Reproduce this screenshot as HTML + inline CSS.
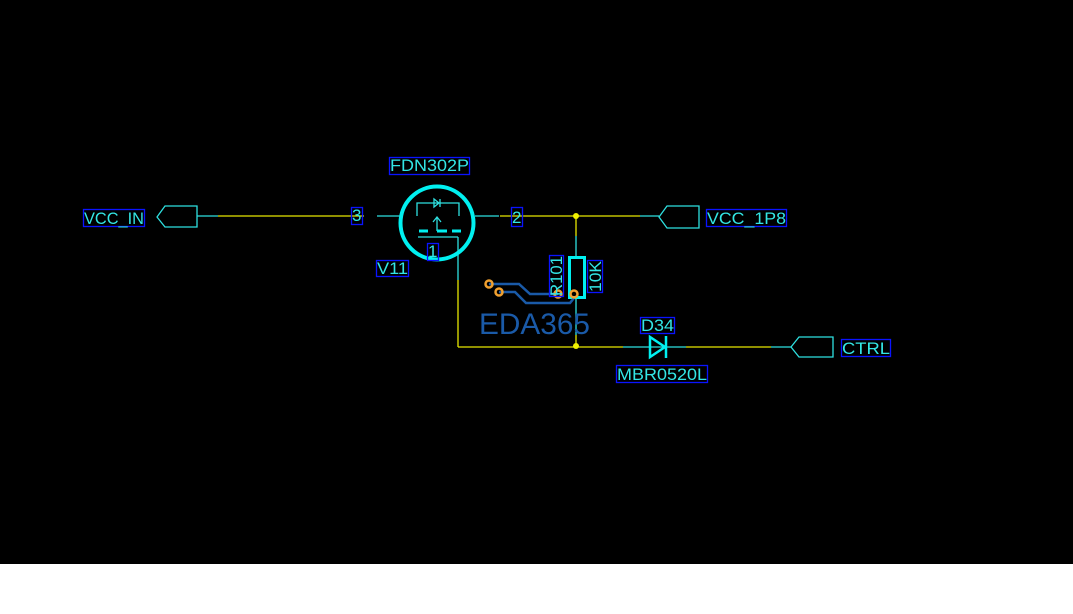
<!DOCTYPE html>
<html><head><meta charset="utf-8"><style>
body{margin:0;width:1073px;height:614px;background:#fff;overflow:hidden}
svg{display:block}
text{font-family:"Liberation Sans",sans-serif;fill:#33e6e6}
</style></head><body>
<svg width="1073" height="614" viewBox="0 0 1073 614">
<rect x="0" y="0" width="1073" height="564" fill="#000"/>
<g fill="none" stroke-width="1.3">
<polygon points="157,217 165,206 197,206 197,227 165,227" stroke="#2ee0e0"/>
<line x1="197" y1="216" x2="218" y2="216" stroke="#2ee0e0"/>
<line x1="218" y1="216" x2="364" y2="216" stroke="#e6e600"/>
<line x1="377" y1="216" x2="400" y2="216" stroke="#2ee0e0"/>
<line x1="475" y1="216" x2="499" y2="216" stroke="#2ee0e0"/>
<line x1="500" y1="216" x2="640" y2="216" stroke="#e6e600"/>
<line x1="640" y1="216" x2="659" y2="216" stroke="#2ee0e0"/>
<polygon points="659,217 667,206 699,206 699,228 667,228" stroke="#2ee0e0"/>
<line x1="576" y1="216" x2="576" y2="236" stroke="#e6e600"/>
<line x1="576" y1="236" x2="576" y2="257" stroke="#2ee0e0"/>
<line x1="576" y1="298" x2="576" y2="335" stroke="#2ee0e0"/>
<line x1="576" y1="335" x2="576" y2="347" stroke="#e6e600"/>
<line x1="458" y1="237" x2="458" y2="280" stroke="#2ee0e0"/>
<line x1="458" y1="280" x2="458" y2="347" stroke="#e6e600"/>
<line x1="458" y1="347" x2="623" y2="347" stroke="#e6e600"/>
<line x1="623" y1="347" x2="686" y2="347" stroke="#2ee0e0"/>
<line x1="686" y1="347" x2="771" y2="347" stroke="#e6e600"/>
<line x1="771" y1="347" x2="791" y2="347" stroke="#2ee0e0"/>
<polygon points="791,347 799,337 833,337 833,357 799,357" stroke="#2ee0e0"/>
<circle cx="437" cy="223" r="36.5" stroke="#00f0f0" stroke-width="4"/>
<polyline points="417,216 417,203 459,203 459,216" stroke="#2ee0e0"/>
<polygon points="434,199 434,207 439,203" stroke="#2ee0e0"/>
<line x1="440" y1="199" x2="440" y2="207" stroke="#2ee0e0"/>
<line x1="437" y1="218" x2="437" y2="231" stroke="#2ee0e0"/>
<polyline points="433,222 437,217 441,222" stroke="#2ee0e0"/>
<line x1="418" y1="237" x2="458" y2="237" stroke="#2ee0e0"/>
</g>
<g stroke="#00f0f0" stroke-width="3">
<line x1="419" y1="231" x2="428" y2="231"/>
<line x1="437" y1="231" x2="447" y2="231"/>
<line x1="452" y1="231" x2="461" y2="231"/>
</g>
<rect x="569.5" y="257.5" width="15" height="40" fill="none" stroke="#00f0f0" stroke-width="3"/>
<polygon points="650,337 650,357 665,347" fill="none" stroke="#00f0f0" stroke-width="2.5"/>
<line x1="666" y1="336" x2="666" y2="358" stroke="#00f0f0" stroke-width="2.5"/>
<circle cx="576" cy="216" r="3" fill="#f0f000"/>
<circle cx="576" cy="346" r="3" fill="#f0f000"/>
<text x="479" y="334" font-size="30" textLength="111" lengthAdjust="spacingAndGlyphs" style="fill:#1a5aa8">EDA365</text>
<g fill="none" stroke="#1a5aa8" stroke-width="2.5">
<polyline points="489,284 519,284 530,294 558,294"/>
<polyline points="499,292 515,292 526,303 570,303 574,298"/>
</g>
<g fill="none" stroke="#f0a030" stroke-width="2.5">
<circle cx="489" cy="284" r="3.5"/><circle cx="499" cy="292" r="3.5"/>
<circle cx="558" cy="294" r="3.5"/><circle cx="574" cy="294" r="3.5"/>
</g>
<g fill="none" stroke="#0a14ff" stroke-width="1.3">
<rect x="83.5" y="209.5" width="61" height="17"/>
<rect x="351.5" y="207.5" width="11" height="17"/>
<rect x="511.5" y="207.5" width="11" height="19"/>
<rect x="706.5" y="209.5" width="80" height="17"/>
<rect x="389.5" y="157.5" width="80" height="17"/>
<rect x="427.5" y="243.5" width="11" height="17"/>
<rect x="376.5" y="260.5" width="32" height="16"/>
<rect x="549.5" y="255.5" width="14" height="41"/>
<rect x="587.5" y="260.5" width="15" height="32"/>
<rect x="640.5" y="317.5" width="34" height="16"/>
<rect x="616.5" y="365.5" width="91" height="17"/>
<rect x="841.5" y="339.5" width="49" height="17"/>
</g>
<g font-size="17" lengthAdjust="spacingAndGlyphs">
<text x="84" y="224" textLength="60" lengthAdjust="spacingAndGlyphs">VCC_IN</text>
<text x="352" y="221">3</text>
<text x="512" y="223">2</text>
<text x="707" y="224" textLength="79" lengthAdjust="spacingAndGlyphs">VCC_1P8</text>
<text x="390" y="171" textLength="79" lengthAdjust="spacingAndGlyphs">FDN302P</text>
<text x="428" y="257">1</text>
<text x="377" y="274" textLength="31" lengthAdjust="spacingAndGlyphs">V11</text>
<text x="641" y="331" textLength="33" lengthAdjust="spacingAndGlyphs">D34</text>
<text x="617" y="380" textLength="90" lengthAdjust="spacingAndGlyphs">MBR0520L</text>
<text x="842" y="354" textLength="48" lengthAdjust="spacingAndGlyphs">CTRL</text>
<text transform="translate(562,296) rotate(-90)" textLength="40" lengthAdjust="spacingAndGlyphs">R101</text>
<text transform="translate(601,292) rotate(-90)" textLength="31" lengthAdjust="spacingAndGlyphs">10K</text>
</g>
</svg>
</body></html>
